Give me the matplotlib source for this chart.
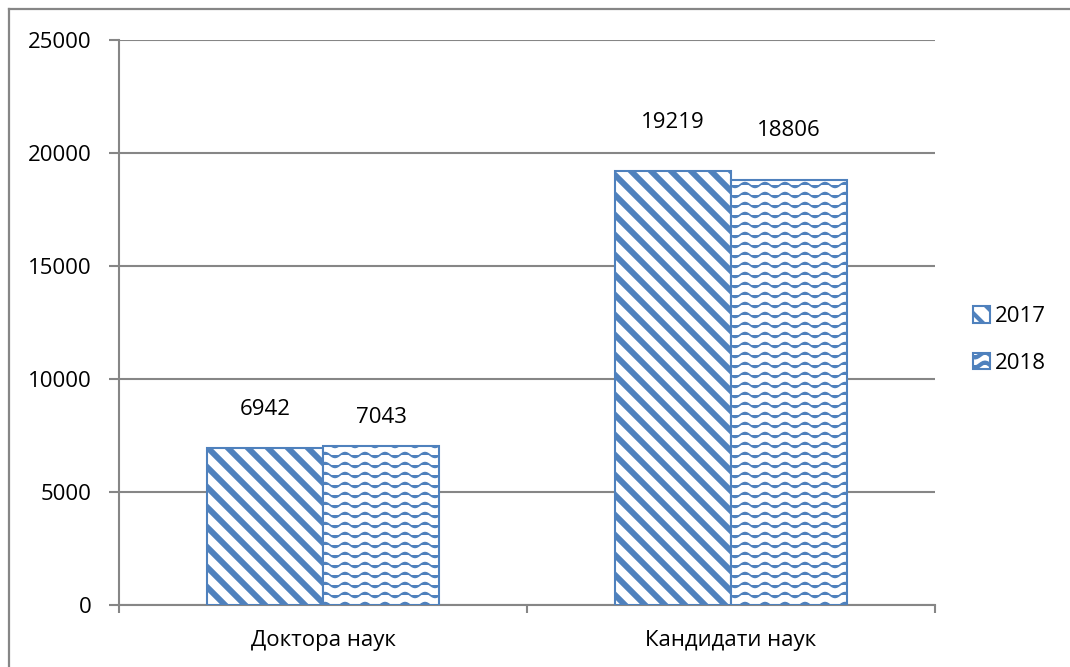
import numpy as np
import matplotlib
matplotlib.use("Agg")
import matplotlib.pyplot as plt
import matplotlib.hatch as mhatch
from matplotlib.path import Path
from matplotlib.lines import Line2D
import warnings

warnings.filterwarnings("ignore")

categories = ["Доктора наук", "Кандидати наук"]
years = ["2017", "2018"]
values_2017 = [6942, 19219]
values_2018 = [7043, 18806]
yticks = [0, 5000, 10000, 15000, 20000, 25000]
# label gap above each bar (px), labels were placed by hand in the original
gap_2017 = [39, 48]
gap_2018 = [28, 49]

blue = "#4F81BD"
grey = "#868686"


# custom hatches: wide diagonal stripes ('d') and wavy lines ('~')
class WideDiagHatch(mhatch.HatchPatternBase):
    def __init__(self, hatch, density):
        self.num_lines = 10 if 'd' in hatch else 0
        self.num_vertices = (self.num_lines + 1) * 2 if self.num_lines else 0

    def set_vertices_and_codes(self, vertices, codes):
        steps = np.linspace(-0.5, 0.5, self.num_lines + 1)
        vertices[0::2, 0] = 0.0 + steps
        vertices[0::2, 1] = 1.0 + steps
        vertices[1::2, 0] = 1.0 + steps
        vertices[1::2, 1] = 0.0 + steps
        codes[0::2] = Path.MOVETO
        codes[1::2] = Path.LINETO


class WaveHatch(mhatch.HatchPatternBase):
    npts = 61

    def __init__(self, hatch, density):
        self.num_lines = 10 if '~' in hatch else 0
        self.num_vertices = self.num_lines * self.npts

    def set_vertices_and_codes(self, vertices, codes):
        xs = np.linspace(0, 1, self.npts)
        for i in range(self.num_lines):
            y0 = (i + 0.5) / self.num_lines
            sl = slice(i * self.npts, (i + 1) * self.npts)
            vertices[sl, 0] = xs
            vertices[sl, 1] = y0 + 0.024 * np.sin(2 * np.pi * 5 * xs)
            codes[sl] = Path.LINETO
            codes[i * self.npts] = Path.MOVETO


mhatch._hatch_types.extend([WideDiagHatch, WaveHatch])

plt.rcParams['font.family'] = ['Open Sans', 'DejaVu Sans']
fs = 16

fig = plt.figure(figsize=(10.7, 6.67), dpi=100)
ax = fig.add_axes([119 / 1070, 1 - 605 / 667, (935 - 119) / 1070, 565 / 667])

x = np.arange(len(categories))
w = 0.285

plt.rcParams['hatch.linewidth'] = 4.3
b1 = ax.bar(x - w / 2, values_2017, w, color="white", edgecolor=blue,
            hatch='d', linewidth=1.5, label=years[0], zorder=3)
plt.rcParams['hatch.linewidth'] = 1.25
b2 = ax.bar(x + w / 2, values_2018, w, color="white", edgecolor=blue,
            hatch='~', linewidth=1.5, label=years[1], zorder=3)
for p in b1:
    try:
        p.set_hatch_linewidth(4.3)
    except AttributeError:
        pass
for p in b2:
    try:
        p.set_hatch_linewidth(1.25)
    except AttributeError:
        pass

for bars, gaps in [(b1, gap_2017), (b2, gap_2018)]:
    for rect, g in zip(bars, gaps):
        ax.annotate(f"{int(rect.get_height())}",
                    (rect.get_x() + rect.get_width() / 2, rect.get_height()),
                    xytext=(0, g * 0.72), textcoords="offset points",
                    ha="center", va="center", fontsize=fs)

ax.set_xlim(-0.5, 1.5)
ax.set_ylim(0, 25000)
ax.set_yticks(yticks)
ax.set_yticklabels([str(t) for t in yticks], fontsize=fs)
ax.yaxis.grid(True, color=grey, linewidth=1.5, zorder=0)
ax.set_axisbelow(True)

ax.set_xticks([-0.5, 0.5, 1.5])
ax.set_xticklabels(["", "", ""])
ax.set_xticks(x, minor=True)
ax.set_xticklabels(categories, minor=True, fontsize=fs)
ax.tick_params(axis='x', which='major', length=6, width=1.5, color=grey)
ax.tick_params(axis='x', which='minor', length=0, pad=18)
ax.tick_params(axis='y', length=7, width=1.5, color=grey, pad=13)

for s in ["top", "right"]:
    ax.spines[s].set_visible(False)
for s in ["left", "bottom"]:
    ax.spines[s].set_color(grey)
    ax.spines[s].set_linewidth(1.5)

plt.rcParams['hatch.linewidth'] = 3.0
leg = ax.legend(loc="center left", bbox_to_anchor=(1.022, 0.469), frameon=False,
                handlelength=0.75, handleheight=0.75, handletextpad=0.25,
                labelspacing=1.15, fontsize=fs)

# outer chart border (only left and top visible in the crop)
fig.add_artist(Line2D([8.5 / 1070, 8.5 / 1070], [0, 1 - 9 / 667], color=grey, linewidth=1.6))
fig.add_artist(Line2D([8.5 / 1070, 1], [1 - 9 / 667, 1 - 9 / 667], color=grey, linewidth=1.6))

fig.savefig("out.png", dpi=100)
